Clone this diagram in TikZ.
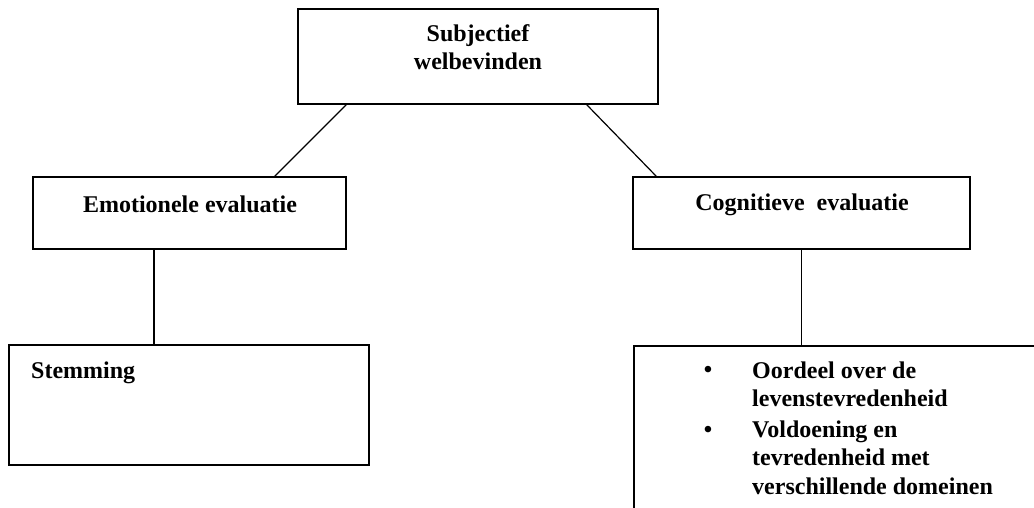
\documentclass[tikz,border=0pt]{standalone}
\usepackage{fontspec}
\setmainfont{Liberation Serif}
\usetikzlibrary{calc}
\begin{document}
\begin{tikzpicture}[x=1pt, y=-1pt,
  box/.style={draw=black, line width=1.6pt, rectangle, inner sep=0pt},
  lbl/.style={font=\fontsize{24}{28.5}\selectfont\bfseries, inner sep=0pt, anchor=base},
  link/.style={-, line width=1.2pt, black}
]
\useasboundingbox (0,0) rectangle (1034,508);
% boxes
\node[box, minimum width=360pt, minimum height=95pt] (swb) at (478,56.5) {};
\node[box, minimum width=313pt, minimum height=72pt] (emo) at (189.5,213) {};
\node[box, minimum width=337pt, minimum height=72pt] (cog) at (801.5,213) {};
\node[box, minimum width=360pt, minimum height=120pt] (stem) at (189,405) {};
\node[box, minimum width=406pt, minimum height=170pt, anchor=north west] (oord) at (633,345) {};

% texts (multi-line nodes sit on their last baseline)
\node[lbl, align=center] (swbtxt) at (478,70) {Subjectief\\ welbevinden};
\node[lbl] (emotxt) at (190,212) {Emotionele evaluatie};
\node[lbl] (cogtxt) at (802,211) {Cognitieve\ \ evaluatie};
\node[lbl, anchor=base west] (stemtxt) at (31,378) {Stemming};
\node[lbl] (bul1) at (708,377) {\textbullet};
\node[lbl] (bul2) at (708,437) {\textbullet};
\node[lbl, anchor=base west, align=left] (item1) at (752,406.5) {Oordeel over de\\levenstevredenheid};
\node[lbl, anchor=base west, align=left] (item2) at (752,494) {Voldoening en\\tevredenheid met\\verschillende domeinen};

% connectors
\draw[link] ($(swb.south west)+(49,0)$) -- ($(emo.north east)+(-72,0)$);
\draw[link] ($(swb.south east)+(-72,0)$) -- ($(cog.north west)+(24,0)$);
\draw[link] (emo.south -| 154,0) -- (stem.north -| 154,0);
\draw[link] (cog.south) -- (cog.south |- oord.north);
\end{tikzpicture}
\end{document}
